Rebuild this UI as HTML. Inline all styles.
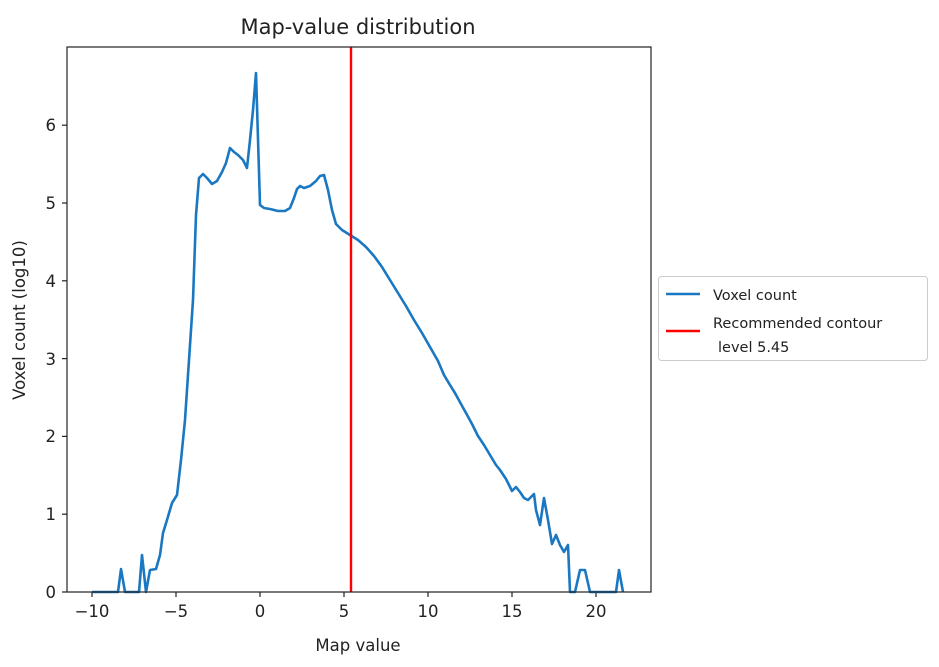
<!DOCTYPE html>
<html><head><meta charset="utf-8"><style>
body{margin:0;background:#fff;}
svg text{font-family:"DejaVu Sans","Liberation Sans",sans-serif;fill:#222;}
</style></head><body>
<svg width="939" height="662" xmlns="http://www.w3.org/2000/svg">
<rect width="939" height="662" fill="#fff"/>
<text x="358" y="34" font-size="21" text-anchor="middle">Map-value distribution</text>
<g stroke="#222" stroke-width="1.2">
<line x1="92" y1="592" x2="92" y2="597"/><line x1="176" y1="592" x2="176" y2="597"/><line x1="260" y1="592" x2="260" y2="597"/><line x1="344" y1="592" x2="344" y2="597"/><line x1="428" y1="592" x2="428" y2="597"/><line x1="512" y1="592" x2="512" y2="597"/><line x1="596" y1="592" x2="596" y2="597"/>
<line x1="62" y1="592" x2="67" y2="592"/><line x1="62" y1="514.2" x2="67" y2="514.2"/><line x1="62" y1="436.4" x2="67" y2="436.4"/><line x1="62" y1="358.6" x2="67" y2="358.6"/><line x1="62" y1="280.8" x2="67" y2="280.8"/><line x1="62" y1="203" x2="67" y2="203"/><line x1="62" y1="125.2" x2="67" y2="125.2"/>
</g>
<g font-size="16.5" text-anchor="middle">
<text x="92" y="617">−10</text><text x="176" y="617">−5</text><text x="260" y="617">0</text><text x="344" y="617">5</text><text x="428" y="617">10</text><text x="512" y="617">15</text><text x="596" y="617">20</text>
</g>
<g font-size="16.5" text-anchor="end">
<text x="56" y="598">0</text><text x="56" y="520">1</text><text x="56" y="442">2</text><text x="56" y="365">3</text><text x="56" y="287">4</text><text x="56" y="209">5</text><text x="56" y="131">6</text>
</g>
<text x="358" y="651" font-size="16.5" text-anchor="middle">Map value</text>
<text transform="translate(25,320) rotate(-90)" font-size="16.5" text-anchor="middle">Voxel count (log10)</text>
<polyline fill="none" stroke="#1a78c2" stroke-width="2.6" stroke-linejoin="round" points="92,592 118,592 121,569 125,592 139,592 142,555 146,592 150,570 156,569 160,555 163,533 167,520 172,503 177,495 181,460 185,420 189,360 193,300 196,215 199,178 203,174 207,178 212,184 217,181 222,172 226,163 230,148 234,152 238,155 243,160 247,168 250,140 253,110 256,73 260,205 264,208 270,209 278,211 285,211 290,208 294,198 297,189 300,186 304,188 310,186 316,181 320,176 324,175 328,190 332,210 336,224 342,230 350,235 358,240 366,247 374,256 382,267 390,280 398,293 406,306 414,320 422,333 430,347 438,361 444,375 450,385 455,393 461,404 466,413 472,424 478,436 484,445 490,455 496,465 500,470 506,479 509,485 512,491 516,487 520,492 524,498 528,500 534,494 536,510 540,525 544,498 548,520 552,544 556,535 560,545 564,552 568,545 570,592 575,592 580,570 585,570 590,592 616,592 619,570 623,592"/>
<line x1="351" y1="47" x2="351" y2="592" stroke="#ff0000" stroke-width="2.4"/>
<rect x="67" y="47" width="584" height="545" fill="none" stroke="#222" stroke-width="1.2"/>
<rect x="658.5" y="276.5" width="269" height="84" fill="#fff" stroke="#ccc" stroke-width="1" rx="3"/>
<line x1="666" y1="294" x2="700" y2="294" stroke="#1a78c2" stroke-width="2.6"/>
<line x1="666" y1="331" x2="700" y2="331" stroke="#ff0000" stroke-width="2.4"/>
<g font-size="14.5">
<text x="713" y="300">Voxel count</text>
<text x="713" y="328">Recommended contour</text>
<text x="718" y="352">level 5.45</text>
</g>
</svg>
</body></html>
